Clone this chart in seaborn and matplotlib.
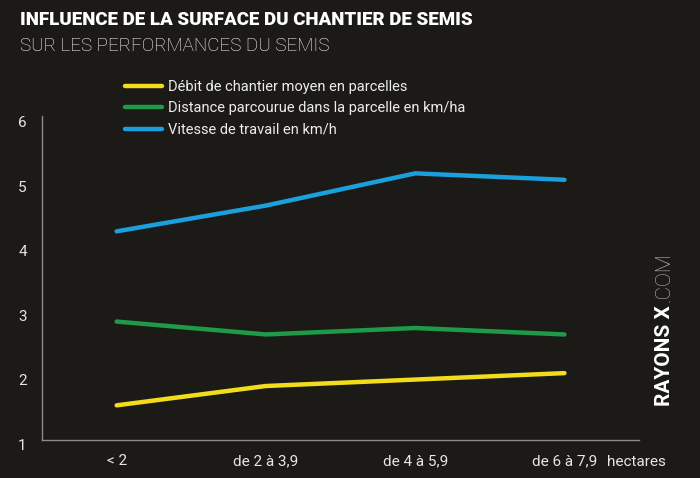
import numpy as np
import pandas as pd
import seaborn as sns
import matplotlib.pyplot as plt

# values
categories = ["< 2", "de 2 à 3,9", "de 4 à 5,9", "de 6 à 7,9"]
debit = [1.6, 1.9, 2.0, 2.1]
distance = [2.9, 2.7, 2.8, 2.7]
vitesse = [4.3, 4.7, 5.2, 5.1]
series_names = ["Débit de chantier moyen en parcelles",
                "Distance parcourue dans la parcelle en km/ha",
                "Vitesse de travail en km/h"]
y_ticks = [1, 2, 3, 4, 5, 6]

bg = "#1b1a17"
colors = ["#f2dc1c", "#1f9a49", "#1aa0dc"]

df = pd.DataFrame({
    "x": list(range(len(categories))) * 3,
    "value": debit + distance + vitesse,
    "serie": [series_names[0]] * 4 + [series_names[1]] * 4 + [series_names[2]] * 4,
})

sns.set_style("dark")
plt.rcParams["font.family"] = ["Roboto", "DejaVu Sans"]

fig = plt.figure(figsize=(7, 4.78), dpi=100, facecolor=bg)
ax = fig.add_axes([0.06, 1 - 444 / 478, 0.853, 328 / 478])
ax.set_facecolor(bg)

sns.lineplot(data=df, x="x", y="value", hue="serie", palette=colors,
             linewidth=3.2, solid_capstyle="round", ax=ax, legend=False)

ax.set_xlim(-0.5, 3.5)
ax.set_ylim(1, 6.09)
ax.set_xticks(range(len(categories)))
ax.set_xticklabels(categories)
ax.set_yticks(y_ticks)
ax.set_yticklabels([str(t) for t in y_ticks])
ax.tick_params(length=0, colors="#e6e6e6", labelsize=11)
ax.tick_params(axis="x", pad=10)
ax.tick_params(axis="y", pad=11)
ax.set_xlabel("")
ax.set_ylabel("")
ax.grid(False)
for s in ["top", "right"]:
    ax.spines[s].set_visible(False)
for s in ["left", "bottom"]:
    ax.spines[s].set_visible(True)
    ax.spines[s].set_color("#8a8a86")
    ax.spines[s].set_linewidth(1.0)
# the axis line sits a little above the "1" label in the original
ax.spines["bottom"].set_position(("data", 1.06))
ax.spines["left"].set_bounds(1.06, 6.09)

# legend
handles = [plt.Line2D([], [], color=c, lw=3.2, solid_capstyle="round") for c in colors]
leg = fig.legend(handles, series_names, loc="upper left",
                 bbox_to_anchor=(112 / 700, 1 - 67 / 478), frameon=False,
                 fontsize=10.5, handlelength=2.5, handletextpad=0.45,
                 labelspacing=0.5, labelcolor="#ececec")

fig.text(607 / 700, 1 - 462 / 478, "hectares", color="#e6e6e6", fontsize=11,
         ha="left", va="center")

# titles
fig.text(20 / 700, 1 - 20 / 478, "INFLUENCE DE LA SURFACE DU CHANTIER DE SEMIS",
         color="white", fontsize=13.5, fontweight="heavy", ha="left", va="center")
fig.text(20 / 700, 1 - 46 / 478, "SUR LES PERFORMANCES DU SEMIS",
         color="white", fontsize=13.5, fontweight="light", ha="left", va="center")

# watermark
fig.text(664 / 700, 1 - 406 / 478, "RAYONS X", color="white", fontsize=15,
         fontweight="bold", rotation=90, ha="center", va="bottom")
fig.text(664 / 700, 1 - 302 / 478, ".COM", color="#bdbdbd", fontsize=15,
         fontweight="light", rotation=90, ha="center", va="bottom")

plt.savefig("out.png", dpi=100, facecolor=bg)
